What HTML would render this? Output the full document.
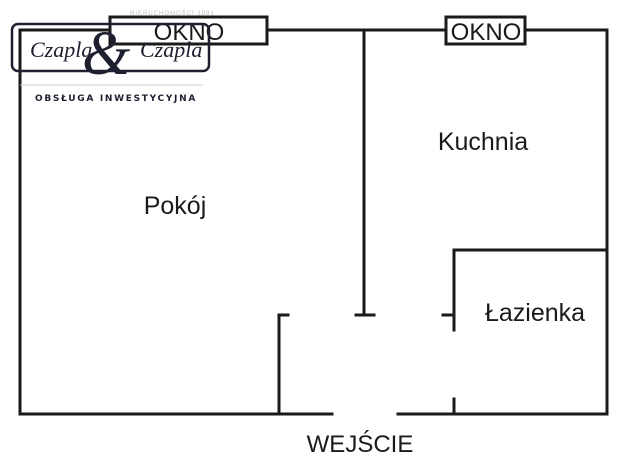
<!DOCTYPE html>
<html><head><meta charset="utf-8"><style>
html,body{margin:0;padding:0;background:#fff;}
body{width:627px;height:466px;overflow:hidden;position:relative;}
svg{position:absolute;left:0;top:0;}
</style></head><body>
<svg width="627" height="466" viewBox="0 0 627 466" xmlns="http://www.w3.org/2000/svg">
<g stroke="#1a1a1a" stroke-width="3" fill="none" stroke-linecap="square">
<line x1="20" y1="30" x2="110" y2="30"/>
<line x1="268" y1="30" x2="445" y2="30"/>
<line x1="525" y1="30" x2="607" y2="30"/>
<line x1="20" y1="30" x2="20" y2="414"/>
<line x1="607" y1="30" x2="607" y2="414"/>
<line x1="20" y1="414" x2="332" y2="414"/>
<line x1="398" y1="414" x2="607" y2="414"/>
<rect x="110" y="17" width="157" height="27"/>
<rect x="446" y="17" width="79" height="27"/>
<line x1="364" y1="30" x2="364" y2="314"/>
<line x1="356" y1="315" x2="374" y2="315"/>
<line x1="454" y1="250" x2="607" y2="250"/>
<line x1="454" y1="250" x2="454" y2="330"/>
<line x1="443" y1="315" x2="454" y2="315"/>
<line x1="454" y1="399" x2="454" y2="414"/>
<line x1="279" y1="315" x2="279" y2="414"/>
<line x1="279" y1="315" x2="288" y2="315"/>
</g>
<g font-family="Liberation Sans, sans-serif" fill="#1a1a1a">
<text x="189" y="40" font-size="24" text-anchor="middle">OKNO</text>
<text x="486" y="40" font-size="24" text-anchor="middle">OKNO</text>
<text x="175" y="214" font-size="25" text-anchor="middle">Pokój</text>
<text x="483" y="150" font-size="25" text-anchor="middle">Kuchnia</text>
<text x="535" y="321" font-size="25" text-anchor="middle">Łazienka</text>
<text x="360" y="452" font-size="24" text-anchor="middle">WEJŚCIE</text>
</g>
<rect x="12" y="24" width="197" height="47" rx="6" fill="none" stroke="#1e2030" stroke-width="2.5"/>
<text x="130" y="15" font-family="Liberation Sans, sans-serif" font-size="6" fill="#bbb" letter-spacing="1">NIERUCHOMOŚCI 1991</text>
<text x="30" y="57" font-family="Liberation Serif, serif" font-style="italic" font-size="22" fill="#1e2030">Czapla</text>
<text x="140" y="57" font-family="Liberation Serif, serif" font-style="italic" font-size="22" fill="#1e2030">Czapla</text>
<text x="82" y="74" font-family="Liberation Serif, serif" font-style="italic" font-size="62" fill="#1e2030">&amp;</text>
<line x1="20" y1="85" x2="203" y2="85" stroke="#ccc" stroke-width="1"/>
<text x="35" y="101" font-family="DejaVu Sans, sans-serif" font-weight="bold" font-size="9" letter-spacing="1.7" fill="#1e2030">OBSŁUGA INWESTYCYJNA</text>
</svg>
</body></html>
